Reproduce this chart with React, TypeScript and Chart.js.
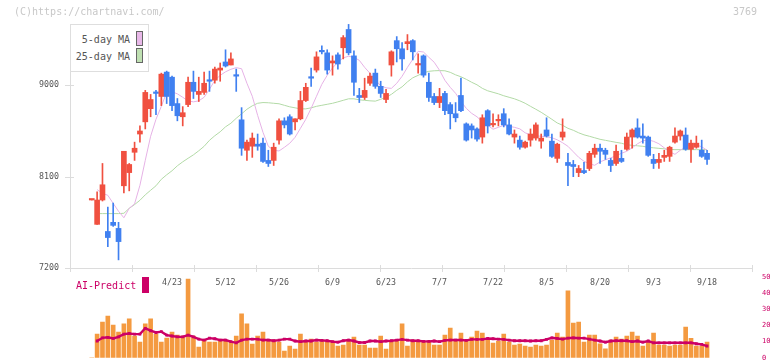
import React, { useEffect, useRef } from 'react';
import { Chart, registerables } from 'chart.js';
Chart.register(...registerables);

const FONT = '"DejaVu Sans Mono", monospace';
const RED = '#f05040';
const BLUE = '#4080f0';

const dateLabels = ['4/23', '5/12', '5/26', '6/9', '6/23', '7/7', '7/22', '8/5', '8/20', '9/3', '9/18'];
const dateTickIdx = [15, 25, 35, 45, 55, 65, 75, 85, 95, 105, 115];
const priceTicks = [7200, 8100, 9000];
const volTicks = [0, 10, 20, 30, 40, 50];

const opens = [7870,7630,7870,7560,7650,7590,8010,8140,8340,8520,
8640,8770,8930,8890,9130,9080,8820,8690,8810,9030,
8910,8930,9050,9050,9150,9230,9200,9100,8660,8360,
8400,8420,8430,8260,8260,8460,8650,8690,8640,8670,
8850,9080,9150,9340,9320,9220,9300,9370,9550,9290,
8900,8880,9020,9120,8990,8860,9200,9440,9360,9410,
9440,9200,9290,9030,8890,8830,8920,8810,8720,8900,
8620,8600,8570,8490,8750,8610,8650,8720,8610,8490,
8460,8390,8460,8480,8450,8560,8450,8280,8490,8240,
8220,8140,8160,8180,8320,8380,8360,8260,8230,8280,
8370,8490,8580,8500,8490,8270,8240,8290,8300,8440,
8500,8510,8370,8390,8360,8330];

const highs = [7870,7950,8230,7800,7840,7650,8350,8230,8440,8600,
8950,8910,8950,9120,9140,9090,8870,8790,9080,9140,
9080,9130,9140,9180,9220,9350,9320,9160,8780,8460,
8530,8520,8480,8360,8430,8670,8680,8710,8670,8940,
9020,9170,9330,9390,9350,9290,9320,9490,9600,9340,
8970,9070,9120,9160,9040,8960,9340,9480,9420,9500,
9450,9310,9300,9120,8920,8970,8940,8830,8830,9070,
8630,8620,8580,8710,8760,8720,8710,8770,8670,8560,
8500,8450,8570,8630,8520,8680,8520,8430,8670,8330,
8260,8210,8240,8350,8420,8420,8380,8280,8410,8360,
8530,8570,8670,8620,8500,8320,8330,8360,8400,8580,
8560,8580,8460,8500,8460,8360];

const lows = [7870,7630,7860,7410,7610,7280,7940,7960,8260,8440,
8570,8690,8710,8800,8820,8750,8650,8600,8790,8870,
8840,8910,8940,9020,9040,9180,9200,8940,8310,8260,
8290,8360,8240,8200,8210,8420,8580,8510,8560,8660,
8840,8990,9130,9310,9110,9100,9160,9260,9300,8900,
8830,8860,9000,8970,8880,8830,9090,9230,9150,9350,
9250,9120,9080,8840,8810,8780,8710,8570,8640,8740,
8450,8480,8450,8430,8530,8590,8600,8590,8510,8430,
8370,8380,8400,8460,8380,8490,8290,8240,8460,8010,
8100,8100,8130,8160,8290,8230,8270,8150,8210,8240,
8360,8380,8480,8430,8300,8180,8180,8250,8250,8430,
8460,8360,8240,8380,8290,8220];

const closes = [7870,7870,8020,7500,7620,7460,8350,8220,8380,8550,
8930,8860,8920,9110,8890,8800,8700,8730,9030,8940,
8940,9020,9040,9160,9170,9190,9260,9090,8380,8440,
8480,8400,8250,8230,8390,8650,8610,8520,8670,8850,
8980,9070,9280,9330,9150,9240,9210,9470,9320,9030,
8880,8950,9090,8990,8920,8920,9330,9360,9260,9430,
9330,9210,9100,8880,8830,8890,8750,8720,8680,8750,
8460,8560,8470,8680,8600,8620,8660,8610,8520,8520,
8390,8440,8520,8610,8480,8500,8300,8420,8540,8210,
8200,8180,8140,8330,8380,8350,8320,8210,8350,8250,
8490,8560,8490,8480,8310,8230,8270,8310,8390,8500,
8550,8370,8430,8430,8300,8270];

const ma5 = [null,7972,7936,7916,7837,7759,7695,7788,7832,8015,
8261,8498,8665,8793,8931,8936,8916,8882,8847,8837,
8847,8882,8961,9049,9098,9133,9158,9174,9163,9020,
8892,8704,8537,8399,8360,8353,8389,8429,8488,8576,
8665,8773,8892,9010,9098,9172,9227,9271,9286,9276,
9246,9177,9118,9054,8995,8975,8970,9020,9089,9177,
9256,9335,9328,9276,9227,9148,9049,8980,8921,8842,
8773,8724,8690,8640,8606,8567,8586,8606,8596,8586,
8571,8532,8512,8502,8498,8493,8483,8463,8434,8399,
8345,8291,8251,8227,8212,8246,8266,8286,8305,8330,
8350,8384,8424,8453,8463,8448,8424,8384,8345,8320,
8360,8394,8424,8414,8394,8360];

const ma25 = [null,7736,7736,7736,7736,7736,7739,7788,7825,7867,
7921,7966,8010,8074,8118,8158,8207,8246,8281,8315,
8355,8399,8458,8503,8542,8591,8626,8675,8719,8764,
8798,8823,8830,8828,8823,8818,8803,8788,8778,8768,
8768,8778,8793,8803,8813,8823,8837,8852,8867,8867,
8857,8852,8847,8844,8862,8882,8911,8951,8985,9034,
9074,9098,9123,9138,9143,9145,9143,9128,9103,9084,
9059,9030,9005,8970,8946,8931,8916,8897,8882,8867,
8847,8823,8793,8764,8734,8700,8665,8629,8606,8576,
8557,8532,8512,8498,8483,8468,8458,8448,8438,8429,
8414,8409,8404,8399,8389,8384,8379,8374,8369,8366,
8366,8366,8366,8366,8366,8366];

const volume = [0,14.7,22.2,25.9,20.3,16,21,24.1,13.5,9.8,
21,24.1,14.7,9.8,12.3,16,14.1,13.5,48.9,13.5,
6.7,11,9.8,9.8,11,11,9.8,13.5,27.2,21,
8.5,13.5,16,11,11,9.8,4.2,7.3,5.4,14.7,
10.4,11.6,9.8,11,10.4,10.4,7.3,7.9,10.4,12.9,
7.9,7.9,6,6,13.5,5.4,10.4,11,21,7.3,
11,10.4,9.8,9.8,7.9,7.9,14.1,18.5,10.4,15.3,
10.4,12.9,16.6,15.3,11.6,9.1,10.4,14.7,9.8,7.9,
8.5,7.3,6.7,7.9,7.3,7.9,11,15.3,12.9,41.5,
21.6,22.2,9.8,14.1,14.1,8.6,5.6,11,12.8,11.6,
13.5,15.9,13.5,7.3,10.4,15.3,7.9,7.9,7.3,7.9,
7.9,19.1,12.1,7.3,7.3,9.8];

const aiPredict = [null,10.4,12.4,12.7,12,13,14.7,15.1,14.7,14.7,
18.3,16.8,15.7,16.2,14.1,13.5,13,13,14.1,13,
11.6,11,12.2,11.8,11,11,10,9.3,11,11.6,
11.6,11.6,11,11,10.6,11,11.6,11.6,10.4,10,
10.4,10.4,11,10.8,10.6,10,9.7,10.6,11,10.4,
9.5,9.5,10.4,10.4,10,10.4,10.6,11,11.4,11,
10.6,10.6,10.2,10.2,10.4,10,10.8,11,11,11,
10.8,11.4,11.4,11.4,12,11.8,11.6,11.4,11,10.6,
10.6,10.6,10.4,10.6,10.6,11.4,12.4,12,11.6,12.2,
12.4,12.2,12.2,11.6,11,10.4,9.7,10.4,10.6,10.6,
10.6,10,10.4,9.7,10.4,9.3,9.3,9.3,9.3,9.3,
9.3,9.3,9.3,8.7,8.3,7.3];

const X_MIN = -4.07;
const X_MAX = 123.4;

export default function App() {
  const refA = useRef<HTMLCanvasElement>(null);
  const refB = useRef<HTMLCanvasElement>(null);

  useEffect(() => {
    Chart.defaults.font.family = FONT;
    const idx = closes.map((_, i) => i);
    const colors = idx.map((i) => (closes[i] >= opens[i] ? RED : BLUE));

    const crossTicks = {
      id: 'crossTicks',
      afterDraw(chart: any) {
        const { ctx, chartArea } = chart;
        const ys = chart.scales.y;
        ctx.save();
        ctx.strokeStyle = '#dcdcdc';
        ctx.lineWidth = 1;
        ctx.beginPath();
        for (const v of priceTicks) {
          const py = Math.round(ys.getPixelForValue(v)) + 0.5;
          ctx.moveTo(chartArea.left - 5, py);
          ctx.lineTo(chartArea.left + 4, py);
        }
        const n = 11;
        for (let k = 0; k <= n; k++) {
          const px = Math.round(chartArea.left + (k * (chartArea.right - chartArea.left)) / n) + 0.5;
          ctx.moveTo(px, chartArea.bottom - 3);
          ctx.lineTo(px, chartArea.bottom + 4);
        }
        ctx.stroke();
        ctx.restore();
      },
    };

    const chartA = new Chart(refA.current!, {
      type: 'bar',
      data: {
        datasets: [
          {
            type: 'line',
            label: '5-day MA',
            data: idx.map((i) => ({ x: i, y: ma5[i] })),
            borderColor: '#e6b2e6',
            borderWidth: 1,
            pointRadius: 0,
            tension: 0,
            order: 3,
          } as any,
          {
            type: 'line',
            label: '25-day MA',
            data: idx.map((i) => ({ x: i, y: ma25[i] })),
            borderColor: '#b2daa6',
            borderWidth: 1,
            pointRadius: 0,
            tension: 0,
            order: 4,
          } as any,
          {
            type: 'bar',
            label: 'wick',
            data: idx.map((i) => ({ x: i, y: [lows[i], highs[i]] })),
            backgroundColor: colors,
            barThickness: 1,
            maxBarThickness: 1.2,
            grouped: false,
            order: 2,
          } as any,
          {
            type: 'bar',
            label: 'body',
            data: idx.map((i) => ({ x: i, y: [opens[i], closes[i]] })),
            backgroundColor: colors,
            barThickness: 5,
            maxBarThickness: 5,
            minBarLength: 1.5,
            grouped: false,
            order: 1,
          } as any,
        ],
      },
      options: {
        animation: false,
        responsive: false,
        maintainAspectRatio: false,
        layout: { padding: { top: 24, right: 20, left: 0, bottom: 0 } },
        plugins: { legend: { display: false }, tooltip: { enabled: false } },
        scales: {
          x: {
            type: 'linear',
            min: X_MIN,
            max: X_MAX,
            bounds: 'data',
            offset: false,
            grid: { display: false, drawTicks: false },
            border: { display: true, color: '#dcdcdc', width: 1 },
            afterBuildTicks: (s: any) => {
              s.ticks = dateTickIdx.map((v) => ({ value: v }));
            },
            afterFit: (s: any) => {
              s.height = 32;
            },
            ticks: {
              autoSkip: false,
              maxRotation: 0,
              padding: 10,
              color: '#555',
              font: { size: 8.3, family: FONT },
              callback: (_v: any, i: number) => dateLabels[i],
            },
          },
          y: {
            type: 'linear',
            position: 'left',
            min: 7200,
            max: 9604,
            bounds: 'data',
            grid: { display: false, drawTicks: false },
            border: { display: true, color: '#dcdcdc', width: 1 },
            afterBuildTicks: (s: any) => {
              s.ticks = priceTicks.map((v) => ({ value: v }));
            },
            afterFit: (s: any) => {
              s.width = 70;
            },
            ticks: {
              padding: 11,
              color: '#555',
              font: { size: 8.3, family: FONT },
              callback: (v: any) => String(v),
            },
          },
        },
      } as any,
      plugins: [crossTicks],
    });

    const chartB = new Chart(refB.current!, {
      type: 'bar',
      data: {
        datasets: [
          {
            type: 'line',
            label: 'AI-Predict',
            data: idx.map((i) => ({ x: i, y: aiPredict[i] })),
            borderColor: '#cc0066',
            borderWidth: 2.4,
            pointRadius: 2,
            pointStyle: 'rect',
            pointBackgroundColor: '#cc0066',
            pointBorderWidth: 0,
            tension: 0,
            order: 1,
          } as any,
          {
            type: 'bar',
            label: 'Volume',
            data: idx.map((i) => ({ x: i, y: volume[i] })),
            backgroundColor: '#f49a40',
            barThickness: 4,
            maxBarThickness: 4,
            grouped: false,
            order: 2,
          } as any,
        ],
      },
      options: {
        animation: false,
        responsive: false,
        maintainAspectRatio: false,
        layout: { padding: { top: 0, right: 0, left: 70, bottom: 0 } },
        plugins: { legend: { display: false }, tooltip: { enabled: false } },
        scales: {
          x: {
            type: 'linear',
            min: X_MIN,
            max: X_MAX,
            bounds: 'data',
            offset: false,
            display: false,
          },
          y: {
            type: 'linear',
            position: 'right',
            min: 0,
            max: 50,
            bounds: 'data',
            grid: { display: false, drawTicks: false },
            border: { display: false },
            afterBuildTicks: (s: any) => {
              s.ticks = volTicks.map((v) => ({ value: v }));
            },
            afterFit: (s: any) => {
              s.width = 20;
            },
            ticks: {
              padding: 10,
              color: '#cc0066',
              font: { size: 7, family: FONT, lineHeight: 1.2 },
              callback: (v: any) => String(v),
            },
          },
        },
      } as any,
    });

    return () => {
      chartA.destroy();
      chartB.destroy();
    };
  }, []);

  const txt: React.CSSProperties = {
    position: 'absolute',
    fontFamily: FONT,
    fontSize: 10,
    lineHeight: '10px',
    whiteSpace: 'nowrap',
  };

  return (
    <div style={{ position: 'fixed', left: 0, top: 0, width: 772, height: 361, background: '#fff', overflow: 'hidden' }}>
      <canvas ref={refB} width={772} height={109} style={{ position: 'absolute', left: 0, top: 263, width: 772, height: 109 }} />
      <canvas ref={refA} width={772} height={300} style={{ position: 'absolute', left: 0, top: 0, width: 772, height: 300 }} />
      <div style={{ ...txt, left: 14, top: 7, color: '#c8c8c8' }}>(C)https://chartnavi.com/</div>
      <div style={{ ...txt, right: 15, top: 7, color: '#c8c8c8' }}>3769</div>
      <div
        style={{
          position: 'absolute',
          left: 70,
          top: 24,
          width: 79,
          height: 48,
          boxSizing: 'border-box',
          border: '1px solid #dedede',
          background: '#fff',
        }}
      >
        <div style={{ ...txt, right: 18, top: 10, color: '#555' }}>5-day MA</div>
        <div style={{ ...txt, right: 18, top: 27, color: '#555' }}>25-day MA</div>
        <div style={{ position: 'absolute', left: 65, top: 6, width: 7, height: 15, boxSizing: 'border-box', border: '1px solid #666', background: '#e8b8e8' }} />
        <div style={{ position: 'absolute', left: 65, top: 23, width: 7, height: 15, boxSizing: 'border-box', border: '1px solid #666', background: '#bfe0b2' }} />
      </div>
      <div style={{ ...txt, left: 76, top: 281, color: '#cc0066' }}>AI-Predict</div>
      <div style={{ position: 'absolute', left: 142, top: 277, width: 7, height: 16, background: '#cc0066' }} />
    </div>
  );
}
